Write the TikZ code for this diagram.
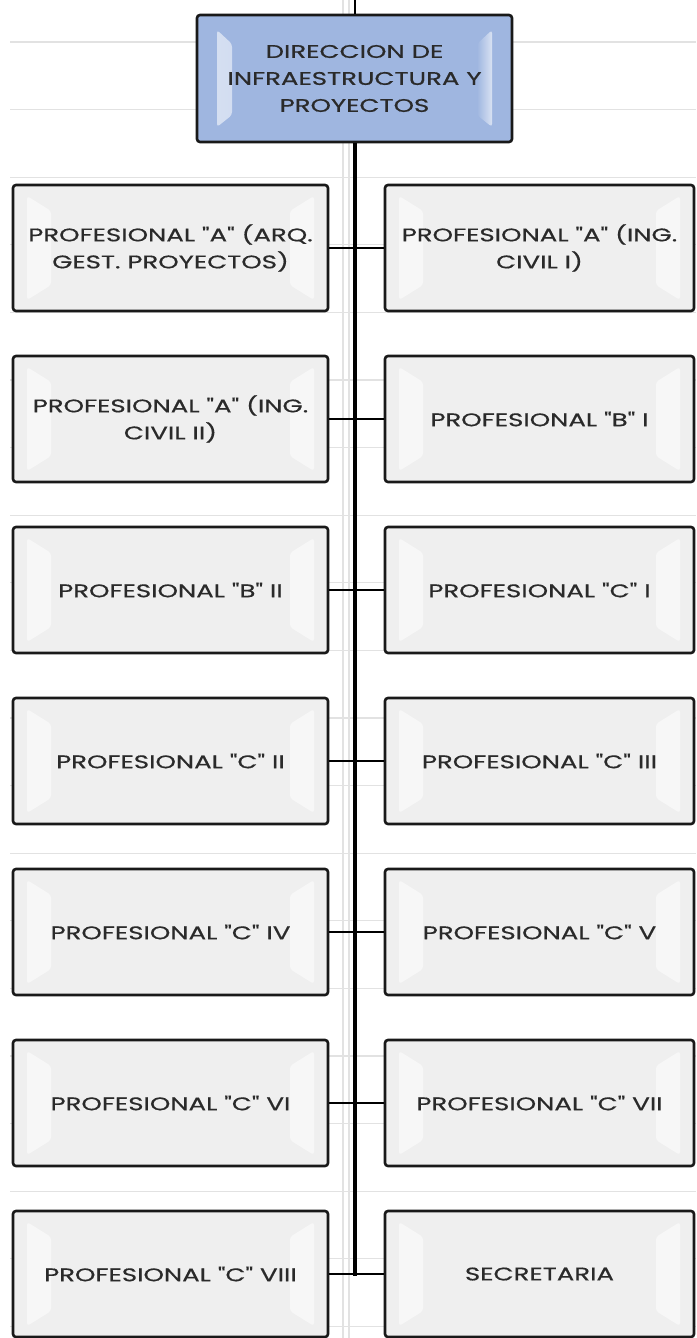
\documentclass[tikz,border=0pt]{standalone}
\usepackage{fontspec}
\setmainfont{Poppins}[Ligatures=TeXOff, FakeStretch=1.42, FakeBold=0.6]
\usetikzlibrary{calc}
\definecolor{boxgray}{HTML}{EFEFEF}
\definecolor{boxblue}{HTML}{9FB6E0}
\definecolor{gridc}{HTML}{E2E2E2}
\definecolor{txt}{HTML}{2A2A2A}
\tikzset{
  basebox/.style={draw=black!90, line width=2.6pt, rounded corners=3pt, align=center,
    text=txt, font=\fontsize{18.3}{27}\selectfont, inner sep=0pt},
  graybev/.style={path picture={
    \fill[white, opacity=0.55]
      ($(path picture bounding box.north west)+(14,11)$) -- ($(path picture bounding box.north west)+(38,26)$)
      -- ($(path picture bounding box.south west)+(38,-26)$) -- ($(path picture bounding box.south west)+(14,-11)$) -- cycle;
    \fill[white, opacity=0.55]
      ($(path picture bounding box.north east)+(-14,11)$) -- ($(path picture bounding box.north east)+(-38,26)$)
      -- ($(path picture bounding box.south east)+(-38,-26)$) -- ($(path picture bounding box.south east)+(-14,-11)$) -- cycle;
  }},
  bluebev/.style={path picture={
    \shade[left color=boxblue!40!white, middle color=white, right color=boxblue]
      ($(path picture bounding box.north west)+(20,15)$) -- ($(path picture bounding box.north west)+(35,29)$)
      -- ($(path picture bounding box.south west)+(35,-27)$) -- ($(path picture bounding box.south west)+(20,-15)$) -- cycle;
    \shade[right color=boxblue!40!white, middle color=white, left color=boxblue]
      ($(path picture bounding box.north east)+(-20,15)$) -- ($(path picture bounding box.north east)+(-35,29)$)
      -- ($(path picture bounding box.south east)+(-35,-27)$) -- ($(path picture bounding box.south east)+(-20,-15)$) -- cycle;
  }},
  lbox/.style={basebox, fill=boxgray, graybev, minimum width=315pt, minimum height=126pt},
  rbox/.style={basebox, fill=boxgray, graybev, minimum width=309pt, minimum height=126pt},
  topbox/.style={basebox, fill=boxblue, bluebev, minimum width=315pt, minimum height=127pt},
  gridline/.style={draw=gridc, line width=1.3pt},
  thinlink/.style={draw=black, line width=1.6pt},
  trunk/.style={draw=black, line width=4pt},
}
\begin{document}
\begin{tikzpicture}[x=1pt, y=-1pt]
\useasboundingbox (0,0) rectangle (696,1338);
\fill[white] (0,0) rectangle (696,1338);
% background grid
\foreach \k in {0,...,19} {
  \draw[gridline] (10,{42+67.6*\k}) -- (696,{42+67.6*\k});
}
\draw[gridline] (343,0) -- (343,1338);
\draw[gridline] (349,0) -- (349,1338);

% nodes
\node[topbox] (top) at (354.5,78.5) {DIRECCION DE\\INFRAESTRUCTURA Y\\PROYECTOS};

\node[lbox] (l1) at (170.5,248) {PROFESIONAL "A" (ARQ.\\GEST. PROYECTOS)};
\node[rbox] (r1) at (539.5,248) {PROFESIONAL "A" (ING.\\CIVIL I)};
\node[lbox] (l2) at (170.5,419) {PROFESIONAL "A" (ING.\\CIVIL II)};
\node[rbox] (r2) at (539.5,419) {PROFESIONAL "B" I};
\node[lbox] (l3) at (170.5,590) {PROFESIONAL "B" II};
\node[rbox] (r3) at (539.5,590) {PROFESIONAL "C" I};
\node[lbox] (l4) at (170.5,761) {PROFESIONAL "C" II};
\node[rbox] (r4) at (539.5,761) {PROFESIONAL "C" III};
\node[lbox] (l5) at (170.5,932) {PROFESIONAL "C" IV};
\node[rbox] (r5) at (539.5,932) {PROFESIONAL "C" V};
\node[lbox] (l6) at (170.5,1103) {PROFESIONAL "C" VI};
\node[rbox] (r6) at (539.5,1103) {PROFESIONAL "C" VII};
\node[lbox] (l7) at (170.5,1274) {PROFESIONAL "C" VIII};
\node[rbox] (r7) at (539.5,1274) {SECRETARIA};

% connectors
\foreach \i in {1,...,7} {
  \draw[thinlink] (l\i.east) -- (r\i.west);
}
\coordinate (topin) at (354.5,0);
\coordinate (trunkend) at (354.5,1275.5);
\draw[draw=black, line width=2pt] (topin) -- (top.north);
\draw[trunk] (top.south) -- (trunkend);
\end{tikzpicture}
\end{document}
